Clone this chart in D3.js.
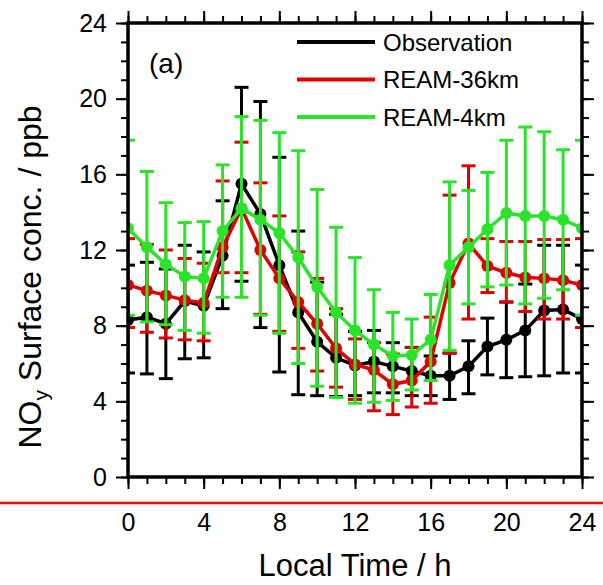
<!DOCTYPE html>
<html>
<head>
<meta charset="utf-8">
<script src="https://cdn.jsdelivr.net/npm/d3@7"></script>
<style>
  body { margin: 0; background: #fff; }
  svg { display: block; font-family: "Liberation Sans", Arial, Helvetica, sans-serif; }
</style>
</head>
<body>
<div id="chart"></div>
<script>
// local hour (0..24, 24 repeats 0)
var hours = [0, 1, 2, 3, 4, 5, 6, 7, 8, 9, 10, 11, 12, 13, 14, 15, 16, 17, 18, 19, 20, 21, 22, 23, 24];

// Observation
var obsMean = [8.3, 8.45, 8.1, 9.3, 9.05, 11.7, 15.5, 13.9, 11.2, 8.7, 7.15, 6.3, 5.9, 6.1, 5.85, 5.6, 5.35, 5.35, 5.85, 6.9, 7.25, 7.75, 8.8, 8.85, 8.35];
var obsLow = [5.5, 5.45, 5.2, 6.25, 6.3, 8.9, 10.35, 7.9, 5.55, 4.35, 4.3, 4.25, 4.3, 4.45, 4.45, 4.3, 4.3, 4.1, 4.4, 5.4, 5.25, 5.3, 5.35, 5.5, 5.5];
var obsHigh = [11.2, 11.35, 11.0, 12.25, 11.9, 14.6, 20.6, 19.85, 16.9, 13.0, 10.3, 8.6, 7.7, 7.75, 7.1, 6.85, 6.4, 6.55, 7.2, 8.4, 9.25, 10.2, 12.25, 12.25, 11.2];

// REAM-36km
var r36Mean = [10.15, 9.85, 9.6, 9.35, 9.2, 12.15, 14.2, 12.0, 10.5, 9.25, 8.1, 6.8, 5.95, 5.65, 4.9, 5.1, 6.1, 10.25, 12.35, 11.15, 10.8, 10.55, 10.5, 10.4, 10.15];
var r36Low = [7.9, 7.65, 7.35, 7.25, 7.2, 10.8, 10.8, 8.6, 7.7, 6.8, 5.6, 4.75, 4.1, 3.5, 3.3, 3.7, 3.9, 6.55, 8.35, 9.75, 9.25, 8.75, 8.35, 8.35, 7.9];
var r36High = [12.6, 12.3, 12.0, 11.55, 11.3, 15.65, 17.7, 15.55, 13.8, 11.9, 10.5, 8.9, 7.3, 7.1, 6.5, 6.85, 8.45, 14.9, 16.45, 12.6, 12.45, 12.45, 12.55, 12.55, 12.6];

// REAM-4km
var r4Mean = [13.15, 12.15, 11.25, 10.6, 10.5, 13.0, 14.2, 13.6, 12.9, 11.6, 10.05, 8.7, 7.75, 7.0, 6.4, 6.45, 7.25, 11.2, 12.15, 13.1, 13.95, 13.8, 13.8, 13.6, 13.15];
var r4Low = [8.55, 8.2, 8.05, 7.75, 7.6, 9.5, 9.5, 8.55, 7.6, 6.0, 4.8, 4.2, 3.9, 3.95, 4.05, 4.6, 5.1, 6.7, 9.15, 10.05, 10.15, 9.15, 9.45, 9.9, 8.55];
var r4High = [17.8, 16.15, 14.5, 13.45, 13.5, 16.5, 19.05, 18.85, 18.2, 17.25, 15.2, 13.2, 11.6, 9.9, 8.7, 8.35, 9.65, 15.6, 15.15, 16.1, 17.8, 18.5, 18.25, 17.3, 17.8];

var seriesNames = ["Observation", "REAM-36km", "REAM-4km"];
var seriesColors = ["#000000", "#e00000", "#2ae42a"];
var xTicks = [0, 4, 8, 12, 16, 20, 24];
var yTicks = [0, 4, 8, 12, 16, 20, 24];

function buildSeries(mean, low, high) {
    return hours.map(function(h, i) {
        return { h: h, v: mean[i], lo: low[i], hi: high[i] };
    });
}

var series = [
    buildSeries(obsMean, obsLow, obsHigh),
    buildSeries(r36Mean, r36Low, r36High),
    buildSeries(r4Mean, r4Low, r4High)
];

drawChart();

function drawChart() {
    var width = 603, height = 585;
    var margin = { top: 23, right: 21, bottom: 108, left: 128 };
    var w = width - margin.left - margin.right;
    var h = height - margin.top - margin.bottom;

    var svg = d3.select("#chart").append("svg")
        .attr("width", width)
        .attr("height", height);

    var g = svg.append("g")
        .attr("transform", "translate(" + margin.left + "," + margin.top + ")");

    var x = d3.scaleLinear().domain([0, 24]).range([0, w]);
    var y = d3.scaleLinear().domain([0, 24]).range([h, 0]);

    svg.append("defs").append("clipPath").attr("id", "plotclip")
        .append("rect").attr("x", 0).attr("y", 0).attr("width", w).attr("height", h);

    var plot = g.append("g").attr("clip-path", "url(#plotclip)");

    var line = d3.line()
        .x(function(d) { return x(d.h); })
        .y(function(d) { return y(d.v); });

    var cap = 7;

    series.forEach(function(data, k) {
        var col = seriesColors[k];
        var s = plot.append("g").attr("class", "series-" + k);

        // error bars
        s.selectAll(".bar").data(data).enter().append("line")
            .attr("x1", function(d) { return x(d.h); })
            .attr("x2", function(d) { return x(d.h); })
            .attr("y1", function(d) { return y(d.lo); })
            .attr("y2", function(d) { return y(d.hi); })
            .attr("stroke", col).attr("stroke-width", 3);
        s.selectAll(".capHi").data(data).enter().append("line")
            .attr("x1", function(d) { return x(d.h) - cap; })
            .attr("x2", function(d) { return x(d.h) + cap; })
            .attr("y1", function(d) { return y(d.hi); })
            .attr("y2", function(d) { return y(d.hi); })
            .attr("stroke", col).attr("stroke-width", 3);
        s.selectAll(".capLo").data(data).enter().append("line")
            .attr("x1", function(d) { return x(d.h) - cap; })
            .attr("x2", function(d) { return x(d.h) + cap; })
            .attr("y1", function(d) { return y(d.lo); })
            .attr("y2", function(d) { return y(d.lo); })
            .attr("stroke", col).attr("stroke-width", 3);

        s.append("path").datum(data)
            .attr("d", line)
            .attr("fill", "none")
            .attr("stroke", col)
            .attr("stroke-width", 3.5);

        s.selectAll("circle").data(data).enter().append("circle")
            .attr("cx", function(d) { return x(d.h); })
            .attr("cy", function(d) { return y(d.v); })
            .attr("r", 6)
            .attr("fill", col);
    });

    // axes: major ticks with labels, minor ticks without
    var minor = d3.range(0, 25);
    var fontTick = "25px";

    var bottomMinor = d3.axisBottom(x).tickValues(minor).tickSize(7).tickFormat("").tickSizeOuter(0);
    var bottomMajor = d3.axisBottom(x).tickValues(xTicks).tickSize(12).tickPadding(24).tickSizeOuter(0);
    var topMinor = d3.axisTop(x).tickValues(minor).tickSize(7).tickFormat("").tickSizeOuter(0);
    var topMajor = d3.axisTop(x).tickValues(xTicks).tickSize(12).tickFormat("").tickSizeOuter(0);
    var leftMinor = d3.axisLeft(y).tickValues(minor).tickSize(7).tickFormat("").tickSizeOuter(0);
    var leftMajor = d3.axisLeft(y).tickValues(yTicks).tickSize(12).tickPadding(9).tickSizeOuter(0);
    var rightMinor = d3.axisRight(y).tickValues(minor).tickSize(7).tickFormat("").tickSizeOuter(0);
    var rightMajor = d3.axisRight(y).tickValues(yTicks).tickSize(12).tickFormat("").tickSizeOuter(0);

    function styleAxis(sel) {
        sel.select(".domain").remove();
        sel.selectAll(".tick line").attr("stroke", "#000").attr("stroke-width", 2);
        sel.selectAll(".tick text").attr("fill", "#000").style("font-size", fontTick)
            .style("font-family", '"Liberation Sans", Arial, sans-serif');
    }

    g.append("g").attr("transform", "translate(0," + h + ")").call(bottomMinor).call(styleAxis);
    g.append("g").attr("transform", "translate(0," + h + ")").call(bottomMajor).call(styleAxis);
    g.append("g").call(topMinor).call(styleAxis);
    g.append("g").call(topMajor).call(styleAxis);
    g.append("g").call(leftMinor).call(styleAxis);
    g.append("g").call(leftMajor).call(styleAxis);
    g.append("g").attr("transform", "translate(" + w + ",0)").call(rightMinor).call(styleAxis);
    g.append("g").attr("transform", "translate(" + w + ",0)").call(rightMajor).call(styleAxis);

    // frame
    g.append("rect")
        .attr("width", w).attr("height", h)
        .attr("fill", "none").attr("stroke", "#000").attr("stroke-width", 3.5);

    // panel label
    g.append("text").attr("x", 21).attr("y", 50)
        .style("font-size", "28px").text("(a)");

    // legend
    var legend = g.selectAll(".legend").data(seriesNames).enter().append("g")
        .attr("transform", function(d, i) { return "translate(169," + (19 + i * 37.5) + ")"; });
    legend.append("line").attr("x1", 0).attr("x2", 78)
        .attr("stroke", function(d, i) { return seriesColors[i]; })
        .attr("stroke-width", 4);
    legend.append("text").attr("x", 86).attr("dy", "0.36em")
        .style("font-size", "24px").text(function(d) { return d; });

    // axis titles
    svg.append("text")
        .attr("x", margin.left + w / 2).attr("y", 576)
        .attr("text-anchor", "middle")
        .style("font-size", "31px")
        .text("Local Time / h");

    var yt = svg.append("text")
        .attr("transform", "translate(41,277) rotate(-90)")
        .attr("text-anchor", "middle")
        .style("font-size", "32px");
    yt.append("tspan").text("NO");
    yt.append("tspan").attr("dy", 7).style("font-size", "21px").text("y");
    yt.append("tspan").attr("dy", -7).text(" Surface conc. / ppb");

    // red horizontal rule across the figure
    svg.append("line")
        .attr("x1", 0).attr("x2", width)
        .attr("y1", 503).attr("y2", 503)
        .attr("stroke", "#ff0000").attr("stroke-width", 2.5);
}
</script>
</body>
</html>
